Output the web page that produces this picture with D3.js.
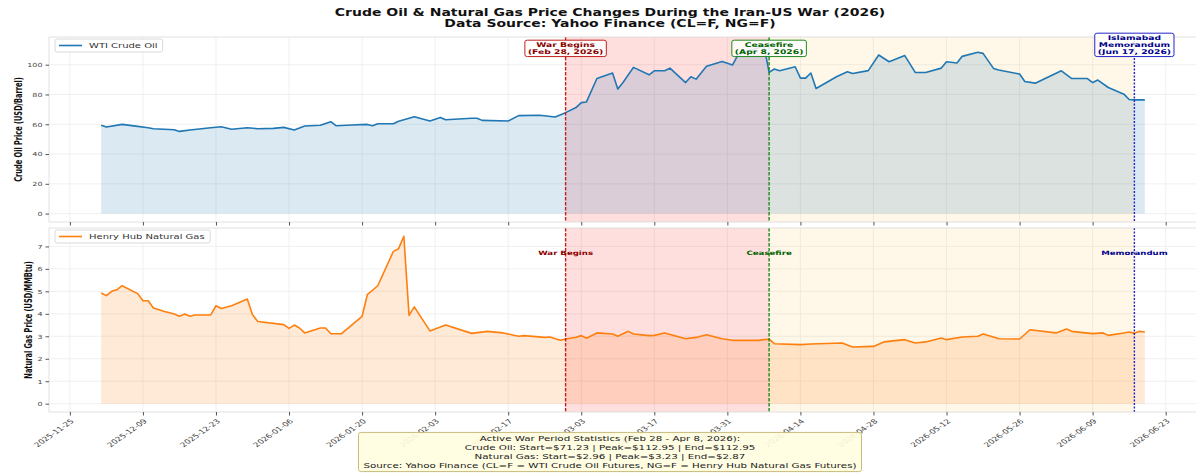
<!DOCTYPE html>
<html lang="en">
<head>
<meta charset="UTF-8">
<title>Crude Oil & Natural Gas - Iran-US War (2026)</title>
<style>
  body { margin: 0; background: #fff; }
  svg { display: block; font-family: "DejaVu Sans", sans-serif; }
</style>
</head>
<body>
<svg id="chart"></svg>
<script src="https://d3js.org/d3.v7.min.js"></script>
<script>
// ---- data ----
const oilDates = ["2025-12-01","2025-12-02","2025-12-05","2025-12-08","2025-12-10","2025-12-11","2025-12-15","2025-12-16",
  "2025-12-18","2025-12-22","2025-12-24","2025-12-26","2025-12-29","2025-12-31","2026-01-03","2026-01-05","2026-01-07",
  "2026-01-09","2026-01-12","2026-01-14","2026-01-15","2026-01-18","2026-01-21","2026-01-22","2026-01-23","2026-01-26",
  "2026-01-27","2026-01-30","2026-02-02","2026-02-04","2026-02-05","2026-02-10","2026-02-11","2026-02-12","2026-02-17",
  "2026-02-19","2026-02-23","2026-02-26","2026-02-28","2026-03-02","2026-03-03","2026-03-04","2026-03-06","2026-03-09",
  "2026-03-10","2026-03-11","2026-03-13","2026-03-16","2026-03-17","2026-03-19","2026-03-20","2026-03-23","2026-03-24",
  "2026-03-25","2026-03-27","2026-03-30","2026-04-01","2026-04-02","2026-04-06","2026-04-07","2026-04-08","2026-04-09",
  "2026-04-10","2026-04-13","2026-04-14","2026-04-15","2026-04-16","2026-04-17","2026-04-21","2026-04-23","2026-04-24",
  "2026-04-27","2026-04-29","2026-05-01","2026-05-04","2026-05-06","2026-05-08","2026-05-11","2026-05-12","2026-05-14",
  "2026-05-15","2026-05-18","2026-05-19","2026-05-21","2026-05-22","2026-05-26","2026-05-27","2026-05-29","2026-06-03",
  "2026-06-05","2026-06-08","2026-06-09","2026-06-10","2026-06-12","2026-06-15","2026-06-16","2026-06-17","2026-06-19"];
const oilPrices = [59.3,58.1,59.9,58.6,57.7,57.0,56.3,55.2,
  56.1,57.7,58.3,56.6,57.6,57.0,57.2,57.9,56.1,
  58.8,59.3,61.7,59.0,59.5,59.9,59.0,60.3,60.3,
  62.0,65.1,62.2,64.6,63.0,64.0,64.0,62.6,62.2,
  65.8,66.0,64.9,67.8,71.2,74.5,75.0,90.7,94.4,
  83.6,88.0,98.2,93.2,95.9,95.9,97.7,88.0,91.9,
  90.3,98.9,102.2,99.8,106.5,111.5,112.95,94.8,97.1,
  95.9,98.6,91.0,91.0,94.4,84.0,92.1,95.3,94.1,
  96.0,106.5,102.0,106.1,94.8,94.8,97.7,102.0,101.1,
  105.6,108.3,107.6,97.5,96.4,93.7,88.7,87.6,95.9,
  90.7,90.7,88.0,89.7,84.7,80.2,76.6,76.4,76.4];

const gasDates = ["2025-12-01","2025-12-02","2025-12-03","2025-12-04","2025-12-05","2025-12-08","2025-12-09","2025-12-10",
  "2025-12-11","2025-12-13","2025-12-15","2025-12-16","2025-12-17","2025-12-18","2025-12-19","2025-12-22","2025-12-23",
  "2025-12-24","2025-12-26","2025-12-29","2025-12-30","2025-12-31","2026-01-05","2026-01-06","2026-01-07","2026-01-08",
  "2026-01-09","2026-01-12","2026-01-13","2026-01-14","2026-01-16","2026-01-20","2026-01-21","2026-01-23","2026-01-26",
  "2026-01-27","2026-01-28","2026-01-29","2026-01-30","2026-02-02","2026-02-05","2026-02-10","2026-02-13","2026-02-16",
  "2026-02-19","2026-02-20","2026-02-24","2026-02-25","2026-02-27","2026-02-28","2026-03-02","2026-03-03","2026-03-04",
  "2026-03-06","2026-03-09","2026-03-10","2026-03-12","2026-03-13","2026-03-16","2026-03-17","2026-03-19","2026-03-23",
  "2026-03-25","2026-03-27","2026-03-30","2026-04-01","2026-04-06","2026-04-07","2026-04-08","2026-04-09","2026-04-14",
  "2026-04-16","2026-04-22","2026-04-24","2026-04-28","2026-04-30","2026-05-04","2026-05-06","2026-05-08","2026-05-11",
  "2026-05-12","2026-05-15","2026-05-18","2026-05-19","2026-05-21","2026-05-22","2026-05-26","2026-05-28","2026-06-02",
  "2026-06-04","2026-06-05","2026-06-09","2026-06-11","2026-06-12","2026-06-15","2026-06-16","2026-06-17","2026-06-18",
  "2026-06-19"];
const gasPrices = [4.93,4.81,5.00,5.07,5.25,4.90,4.58,4.58,
  4.26,4.11,3.99,3.89,3.99,3.89,3.95,3.95,4.36,
  4.24,4.36,4.66,3.96,3.66,3.52,3.35,3.50,3.37,
  3.15,3.37,3.37,3.11,3.11,3.89,4.85,5.25,6.78,
  6.90,7.45,3.93,4.31,3.24,3.50,3.13,3.22,3.15,
  3.00,3.03,2.95,2.97,2.82,2.88,2.96,3.03,2.91,
  3.15,3.10,3.00,3.22,3.10,3.03,3.04,3.15,2.89,
  2.95,3.07,2.89,2.82,2.82,2.85,2.87,2.67,2.63,
  2.66,2.70,2.52,2.55,2.75,2.85,2.70,2.75,2.92,
  2.85,2.97,3.00,3.10,2.97,2.89,2.88,3.29,3.15,
  3.32,3.22,3.12,3.15,3.04,3.15,3.19,3.13,3.22,
  3.19];

const eventDates = ["2026-02-28", "2026-04-08", "2026-06-17"];
const eventBoxLabels = [["War Begins", "(Feb 28, 2026)"], ["Ceasefire", "(Apr 8, 2026)"],
  ["Islamabad", "Memorandum", "(Jun 17, 2026)"]];
const eventShortLabels = ["War Begins", "Ceasefire", "Memorandum"];
const eventColors = ["#c41e1e", "#1e8a1e", "#2424c8"];
const eventTextColors = ["#8b0000", "#006400", "#00008b"];

const tickDates = ["2025-11-25","2025-12-09","2025-12-23","2026-01-06","2026-01-20","2026-02-03","2026-02-17",
  "2026-03-03","2026-03-17","2026-03-31","2026-04-14","2026-04-28","2026-05-12","2026-05-26","2026-06-09","2026-06-23"];
const oilTicks = [0, 20, 40, 60, 80, 100];
const gasTicks = [0, 1, 2, 3, 4, 5, 6, 7];

const titleLines = ["Crude Oil & Natural Gas Price Changes During the Iran-US War (2026)",
  "Data Source: Yahoo Finance (CL=F, NG=F)"];
const statsLines = ["Active War Period Statistics (Feb 28 - Apr 8, 2026):",
  "Crude Oil: Start=$71.23 | Peak=$112.95 | End=$112.95",
  "Natural Gas: Start=$2.96 | Peak=$3.23 | End=$2.87",
  "Source: Yahoo Finance (CL=F = WTI Crude Oil Futures, NG=F = Henry Hub Natural Gas Futures)"];

// ---- layout ----
const width = 1196, height = 473;
const SQ = 0.7; // the reference figure is squashed vertically, text too
const parse = d3.utcParse("%Y-%m-%d");

const svg = d3.select("#chart").attr("width", width).attr("height", height);

const x = d3.scaleUtc()
  .domain([parse("2025-11-21"), parse("2026-06-29")])
  .range([49, 1197]);

function sq(px, py, rot) {
  return `translate(${px},${py}) scale(1,${SQ})` + (rot ? ` rotate(${rot})` : "");
}

const oil = oilDates.map((d, i) => ({ date: parse(d), v: oilPrices[i] }));
const gas = gasDates.map((d, i) => ({ date: parse(d), v: gasPrices[i] }));

const panels = [
  { data: oil, y: d3.scaleLinear([-5.65, 118.6], [222, 37]), ticks: oilTicks, color: "#1f77b4",
    label: "Crude Oil Price (USD/Barrel)", labelX: 18, legend: "WTI Crude Oil", showX: false },
  { data: gas, y: d3.scaleLinear([-0.37, 7.82], [412, 228]), ticks: gasTicks, color: "#ff7f0e",
    label: "Natural Gas Price (USD/MMBtu)", labelX: 28, legend: "Henry Hub Natural Gas", showX: true }
];

const x0 = x.range()[0], x1 = x.range()[1];

panels.forEach((p, pi) => {
  const y = p.y;
  const top = y.range()[1], bottom = y.range()[0];
  const g = svg.append("g");

  // grid
  g.append("g").selectAll("line").data(tickDates).join("line")
    .attr("x1", d => x(parse(d))).attr("x2", d => x(parse(d)))
    .attr("y1", top).attr("y2", bottom)
    .attr("stroke", "#ececec").attr("stroke-width", 0.8);
  g.append("g").selectAll("line").data(p.ticks).join("line")
    .attr("x1", x0).attr("x2", x1)
    .attr("y1", d => y(d)).attr("y2", d => y(d))
    .attr("stroke", "#ececec").attr("stroke-width", 0.8);

  // event periods
  g.append("rect")
    .attr("x", x(parse(eventDates[0]))).attr("width", x(parse(eventDates[1])) - x(parse(eventDates[0])))
    .attr("y", top).attr("height", bottom - top)
    .attr("fill", "red").attr("fill-opacity", 0.13);
  g.append("rect")
    .attr("x", x(parse(eventDates[1]))).attr("width", x(parse(eventDates[2])) - x(parse(eventDates[1])))
    .attr("y", top).attr("height", bottom - top)
    .attr("fill", "orange").attr("fill-opacity", 0.09);

  // area + line
  const area = d3.area().x(d => x(d.date)).y0(y(0)).y1(d => y(d.v));
  const line = d3.line().x(d => x(d.date)).y(d => y(d.v));
  g.append("path").datum(p.data).attr("d", area)
    .attr("fill", p.color).attr("fill-opacity", 0.16);
  g.append("path").datum(p.data).attr("d", line)
    .attr("fill", "none").attr("stroke", p.color).attr("stroke-width", 1.6)
    .attr("stroke-linejoin", "round");

  // event lines
  g.append("g").selectAll("line").data(eventDates).join("line")
    .attr("x1", d => x(parse(d))).attr("x2", d => x(parse(d)))
    .attr("y1", top).attr("y2", bottom)
    .attr("stroke", (d, i) => eventColors[i]).attr("stroke-width", 1.4)
    .attr("stroke-dasharray", (d, i) => i === 2 ? "2,1.5" : "3.5,1.5");

  // frame
  g.append("rect").attr("x", x0).attr("y", top).attr("width", x1 - x0).attr("height", bottom - top)
    .attr("fill", "none").attr("stroke", "#d9d9d9").attr("stroke-width", 0.8);

  // y axis
  const ya = g.append("g").attr("transform", `translate(${x0},0)`)
    .call(d3.axisLeft(y).tickValues(p.ticks).tickSize(3.5).tickPadding(3));
  ya.select(".domain").remove();
  ya.selectAll(".tick line").attr("stroke", "#555");
  ya.selectAll(".tick text").attr("fill", "#444").attr("font-size", 8)
    .attr("font-family", "DejaVu Sans").attr("transform", `scale(1,${SQ})`);

  // x axis
  const xa = g.append("g").attr("transform", `translate(0,${bottom})`)
    .call(d3.axisBottom(x).tickValues(tickDates.map(parse)).tickSize(3.5)
      .tickFormat(p.showX ? d3.utcFormat("%Y-%m-%d") : ""));
  xa.select(".domain").remove();
  xa.selectAll(".tick line").attr("stroke", "#555");
  if (p.showX) {
    xa.selectAll(".tick text").attr("fill", "#444").attr("font-size", 9)
      .attr("font-family", "DejaVu Sans")
      .attr("x", 0).attr("y", 0).attr("dy", "0.35em").attr("text-anchor", "end")
      .attr("transform", sq(2, 8, -45));
  }

  // y label
  svg.append("text").attr("transform", sq(p.labelX, (top + bottom) / 2, -90))
    .attr("text-anchor", "middle").attr("font-family", "DejaVu Sans Condensed")
    .attr("font-weight", "bold").attr("font-size", 10.5).attr("dy", "0.35em")
    .attr("fill", "#111").text(p.label);

  // legend
  const lg = svg.append("g").attr("transform", `translate(55,${top + 2})`);
  const lt = lg.append("text").attr("transform", sq(34, 6.5)).attr("dy", "0.35em")
    .attr("font-size", 10).attr("fill", "#333").text(p.legend);
  const lw = lt.node().getBBox().width;
  lg.insert("rect", "text").attr("width", 34 + lw + 5).attr("height", 13).attr("rx", 2)
    .attr("fill", "white").attr("fill-opacity", 0.85).attr("stroke", "#d0d0d0").attr("stroke-width", 0.8);
  lg.append("line").attr("x1", 4).attr("x2", 27).attr("y1", 6.5).attr("y2", 6.5)
    .attr("stroke", p.color).attr("stroke-width", 1.6);

  // event annotations
  if (pi === 0) {
    eventDates.forEach((d, i) => {
      const ag = svg.append("g").attr("transform", sq(x(parse(d)), 56));
      const t = ag.append("text").attr("text-anchor", "middle").attr("font-weight", "bold")
        .attr("font-size", 9.2).attr("fill", eventTextColors[i]);
      const n = eventBoxLabels[i].length;
      eventBoxLabels[i].forEach((s, j) => {
        t.append("tspan").attr("x", 0).attr("y", -3 - (n - 1 - j) * 10).text(s);
      });
      const bb = t.node().getBBox();
      ag.insert("rect", "text")
        .attr("x", bb.x - 3).attr("y", bb.y - 1.5).attr("width", bb.width + 6).attr("height", bb.height + 3)
        .attr("rx", 2.5).attr("fill", "white").attr("fill-opacity", 0.85)
        .attr("stroke", eventColors[i]).attr("stroke-width", 1).attr("vector-effect", "non-scaling-stroke");
    });
  } else {
    eventDates.forEach((d, i) => {
      svg.append("text").attr("transform", sq(x(parse(d)), 252.5))
        .attr("text-anchor", "middle").attr("dy", "0.35em").attr("font-weight", "bold")
        .attr("font-size", 8.6).attr("fill", eventTextColors[i]).text(eventShortLabels[i]);
    });
  }
});

// title
titleLines.forEach((s, i) => {
  svg.append("text").attr("transform", sq(610, 15.5 + i * 11))
    .attr("text-anchor", "middle").attr("font-weight", "bold").attr("font-size", 14)
    .attr("fill", "#111").text(s);
});

// stats box
const sg = svg.append("g").attr("transform", sq(610, 441));
const st = sg.append("text").attr("text-anchor", "middle").attr("font-size", 10.3).attr("fill", "#222");
statsLines.forEach((s, j) => {
  st.append("tspan").attr("x", 0).attr("y", j * 12.8).text(s);
});
const sb = st.node().getBBox();
sg.insert("rect", "text")
  .attr("x", sb.x - 5).attr("y", sb.y - 3).attr("width", sb.width + 10).attr("height", sb.height + 6)
  .attr("rx", 3).attr("fill", "#fffde0").attr("fill-opacity", 0.92)
  .attr("stroke", "#c9b97a").attr("stroke-width", 1).attr("vector-effect", "non-scaling-stroke");
</script>
</body>
</html>
